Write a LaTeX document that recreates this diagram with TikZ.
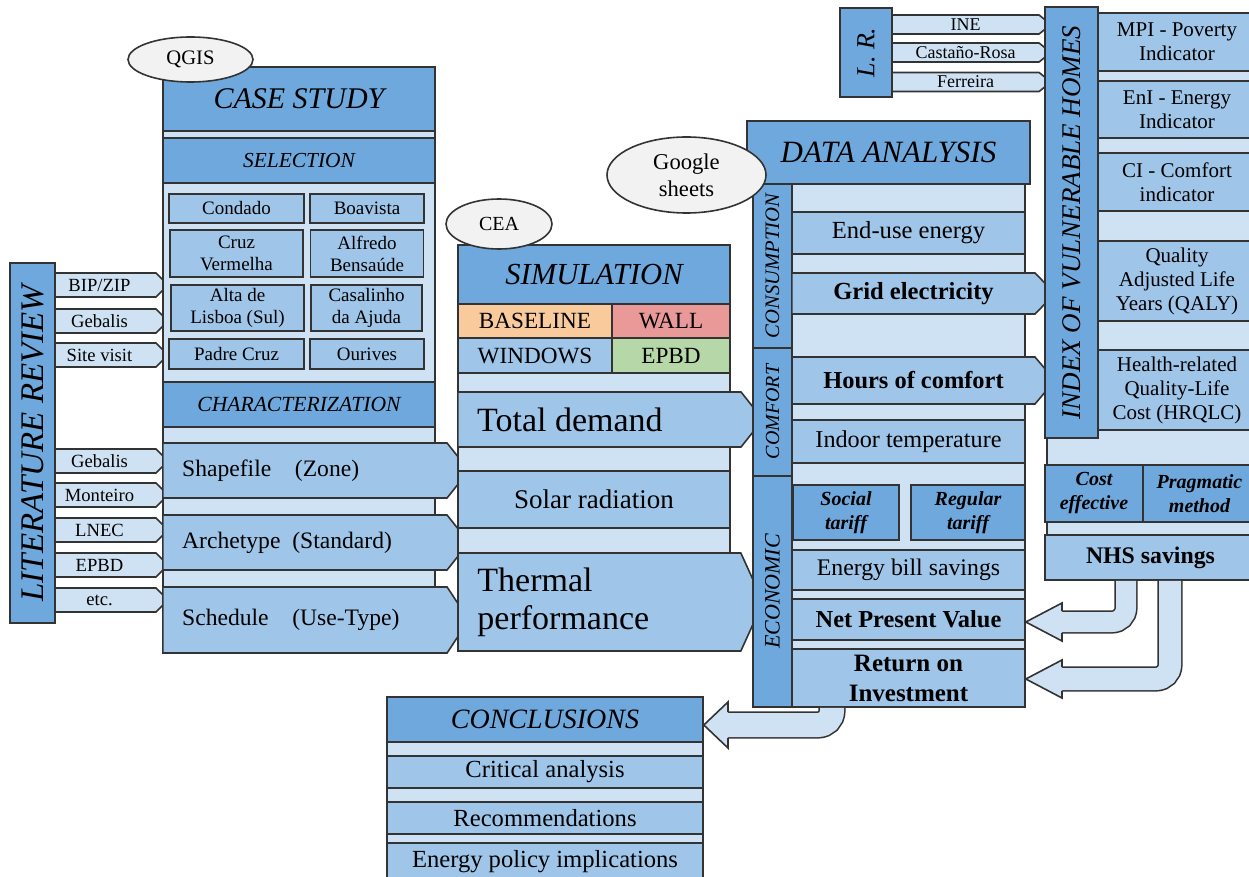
\documentclass[tikz,border=0pt]{standalone}
\usepackage{fontspec}
\setmainfont{Liberation Serif}
\usetikzlibrary{shapes.symbols,shapes.geometric,calc}
\definecolor{dkblue}{HTML}{6FA8DC}
\definecolor{mdblue}{HTML}{9FC5E8}
\definecolor{ltblue}{HTML}{CFE2F3}
\definecolor{peach}{HTML}{F9CB9C}
\definecolor{rose}{HTML}{EA9999}
\definecolor{sage}{HTML}{B6D7A8}
\definecolor{ellgray}{HTML}{F2F2F2}
\definecolor{edge}{HTML}{333333}

\begin{document}
\begin{tikzpicture}[x=0.5pt,y=-0.5pt,
 cell/.style={draw=edge,line width=0.8pt,inner sep=1pt,align=center},
 sz/.style 2 args={minimum width=#1*0.5pt,minimum height=#2*0.5pt},
 fs/.style 2 args={font=\fontsize{#1}{#2}\selectfont},
 fi/.style 2 args={font=\fontsize{#1}{#2}\selectfont\itshape},
 fb/.style 2 args={font=\fontsize{#1}{#2}\selectfont\bfseries},
 fbi/.style 2 args={font=\fontsize{#1}{#2}\selectfont\bfseries\itshape},
 hdr/.style={cell,fill=dkblue},
 itm/.style={cell,fill=mdblue},
 bg/.style={cell,fill=ltblue},
 tagar/.style={cell,fill=ltblue,shape=signal,signal to=east},
 ptr/.style={cell,fill=mdblue,shape=signal,signal to=east},
 tool/.style={draw=edge,line width=0.8pt,fill=ellgray,ellipse,inner sep=0pt,align=center},
 edgeln/.style={draw=edge,line width=0.8pt},
 fat/.style={edgeln,double=ltblue,rounded corners=7pt}]
\useasboundingbox (0,0) rectangle (1249,877);

% literature review
\node[hdr,sz={360}{45},rotate=90,fi={16.5}{18}] (litrev) at (32.5,443) {LITERATURE REVIEW};
\foreach \n/\y/\t in {bip/285/{BIP/ZIP},geba/321/Gebalis,site/355/Site visit,gebb/461/Gebalis,
  mont/495/Monteiro,lnec/530/LNEC,epbd/565/EPBD,etc/600/etc.}
  \node[tagar,sz={113}{24},fs={9.3}{10}] (\n) at (105.5,\y) {\t\hspace{6pt}};

% case study
\node[bg,sz={272}{586}] (csbg) at (299,360) {};
\node[hdr,sz={272}{64},fi={15}{17}] (cshead) at (299,99) {CASE STUDY};
\node[hdr,sz={272}{45},fi={10.7}{12}] (sel) at (299,160.5) {SELECTION};
\foreach \n/\x/\y/\w/\h/\t in {
  cond/236.5/208.5/135/29/Condado, boav/367/208.5/114/29/Boavista,
  cruz/236.5/253.5/133/47/{Cruz\\Vermelha}, alfr/367/253.5/113/47/{Alfredo\\Bensaúde},
  alta/237.5/308/133/46/{Alta de\\Lisboa (Sul)}, casa/366.5/308/111/46/{Casalinho\\da Ajuda},
  padr/236.5/354/135/30/Padre Cruz, ouri/367/354/114/30/Ourives}
  \node[itm,sz={\w}{\h},fs={9.5}{11}] (\n) at (\x,\y) {\t};
\node[hdr,sz={272}{45},fi={10.8}{12}] (charac) at (299,404.5) {CHARACTERIZATION};
\node[ptr,sz={306}{55},signal pointer angle=103] (shp) at (305,470.5) {};
\node[ptr,sz={306}{55},signal pointer angle=103] (arch) at (305,542.5) {};
\node[ptr,sz={306}{66},signal pointer angle=113] (sched) at (305,620) {};
\node[anchor=west,fs={11.8}{13}] (shpt) at ([xshift=6.5pt]shp.west) {Shapefile\quad(Zone)};
\node[anchor=west,fs={11.8}{13}] (archt) at ([xshift=6.5pt]arch.west) {Archetype\enspace(Standard)};
\node[anchor=west,fs={11.8}{13}] (schedt) at ([xshift=6.5pt]sched.west) {Schedule\quad(Use-Type)};
\node[tool,sz={125}{45},fs={10.3}{12}] (qgis) at (190.5,59.5) {QGIS};

% simulation
\node[bg,sz={272}{406}] (simbg) at (594,448) {};
\node[hdr,sz={272}{59},fi={15.3}{17}] (simhead) at (594,274.5) {SIMULATION};
\foreach \n/\x/\y/\w/\c/\t in {scbase/535/321/154/peach/BASELINE, scwall/671/321/118/rose/WALL,
  scwin/535/355.5/154/mdblue/WINDOWS, scepbd/671/355.5/118/sage/EPBD}
  \node[cell,fill=\c,sz={\w}{34.5},fs={11.6}{13}] (\n) at (\x,\y) {\t};
\node[ptr,sz={305}{55},signal pointer angle=103] (totdem) at (599.5,419.5) {};
\node[anchor=west,fs={17}{19}] (totdemt) at ([xshift=6.5pt]totdem.west) {Total demand};
\node[itm,sz={272}{57},fs={13.5}{15}] (solar) at (594,499.5) {Solar radiation};
\node[ptr,sz={305}{98},signal pointer angle=131] (therm) at (599.5,602) {};
\node[anchor=west,align=left,fs={17}{19}] (thermt) at ([xshift=6.5pt]therm.west) {Thermal\\performance};
\node[tool,sz={106}{50},fs={10}{12}] (cea) at (499,224) {CEA};

% data analysis
\node[bg,sz={233}{523}] (dabg) at (908.5,445.5) {};
\node[hdr,sz={283}{63},fi={15.5}{17}] (dahead) at (888.5,152.5) {DATA ANALYSIS};
\node[hdr,sz={164}{39},rotate=90,fi={10.3}{12}] (cons) at (772.5,266) {CONSUMPTION};
\node[hdr,sz={128}{39},rotate=90,fi={10}{12}] (comf) at (772.5,412) {COMFORT};
\node[hdr,sz={231}{39},rotate=90,fi={11}{12}] (econ) at (772.5,591.5) {ECONOMIC};
\node[itm,sz={233}{42},fs={12.3}{14}] (enduse) at (908.5,233) {End-use energy};
\node[ptr,sz={263}{41},signal pointer angle=92,fb={12.3}{14}] (grid) at (913.5,293.5) {Grid electricity};
\node[ptr,sz={263}{47},signal pointer angle=99,fb={12.2}{14}] (hours) at (913.5,380.5) {Hours of comfort};
\node[itm,sz={233}{43},fs={12.1}{14}] (indoor) at (908.5,441.5) {Indoor temperature};
\node[hdr,sz={106}{55},fbi={10}{12}] (social) at (846,512.5) {Social\\tariff};
\node[hdr,sz={114}{55},fbi={10}{12}] (regular) at (968,512.5) {Regular\\tariff};
\node[itm,sz={233}{40},fs={11.9}{14}] (ebill) at (908.5,570) {Energy bill savings};
\node[itm,sz={233}{41},fb={12.2}{14}] (npv) at (908.5,619.5) {Net Present Value};
\node[itm,sz={233}{58},fb={12.5}{15}] (roi) at (908.5,678) {Return on\\Investment};
\node[tool,sz={159}{76},fs={11.3}{13.5}] (gsheet) at (686.5,175) {Google\\sheets};

% index of vulnerable homes
\node[hdr,sz={89}{52},rotate=90,fi={13}{15}] (lr) at (866,52.5) {L. R.};
\foreach \n/\y/\t in {ine/24.5/INE, cast/52.5/Castaño-Rosa, ferr/82/Ferreira}
  \node[tagar,sz={159}{19},signal pointer angle=77,fs={9}{10}] (\n) at (965.5,\y) {\t};
\node[bg,sz={209}{547}] (ivbg) at (1151.5,286.5) {};
\node[hdr,sz={431}{53},rotate=90,fi={13.5}{15}] (ivh) at (1071.5,222.5) {INDEX OF VULNERABLE HOMES};
\foreach \n/\y/\h/\t in {mpi/42/58/{MPI - Poverty\\Indicator}, eni/109.5/57/{EnI - Energy\\Indicator},
  ci/182/58/{CI - Comfort\\indicator}, qaly/281/80/{Quality\\Adjusted Life\\Years (QALY)},
  hrq/390/80/{Health-related\\Quality-Life\\Cost (HRQLC)}}
  \node[itm,sz={158}{\h},fs={10.5}{12}] (\n) at (1177,\y) {\t};
\node[hdr,sz={98}{57},fbi={10}{12}] (cost) at (1094,493.5) {Cost\\effective};
\node[hdr,sz={113}{57},fbi={10}{12}] (prag) at (1199.5,493.5) {Pragmatic\\method};
\node[itm,sz={211}{45},fb={11.9}{14}] (nhs) at (1150.5,557.5) {NHS savings};

% conclusions
\node[bg,sz={316}{186}] (conbg) at (545,790) {};
\node[hdr,sz={316}{45},fi={14}{16}] (conhead) at (545,719.5) {CONCLUSIONS};
\foreach \n/\y/\h/\t in {crit/772/32/Critical analysis, reco/818/32/Recommendations,
  epi/862/38/Energy policy implications}
  \node[itm,sz={316}{\h},fs={12.3}{14}] (\n) at (545,\y) {\t};

% hollow bent arrows
\foreach \s/\d/\x/\y/\bx/\h/\w in {nhs/npv/1126/622/1062/19/20, nhs/roi/1170/679/1062/19/22,
  roi/conhead/832/725/728/23/24}{
  \coordinate (bend) at (\x,\y);
  \draw[fat,double distance=\w*0.5pt] (bend |- \s.south) -- (bend) -- (\bx,\y);
  \fill[ltblue] (\bx,\y-\h) -- (\d.east |- bend) -- (\bx,\y+\h) -- cycle;
  \draw[edgeln] (\bx,\y-\w/2-0.8) -- (\bx,\y-\h) -- (\d.east |- bend) -- (\bx,\y+\h) -- (\bx,\y+\w/2+0.8);
}
\end{tikzpicture}
\end{document}
